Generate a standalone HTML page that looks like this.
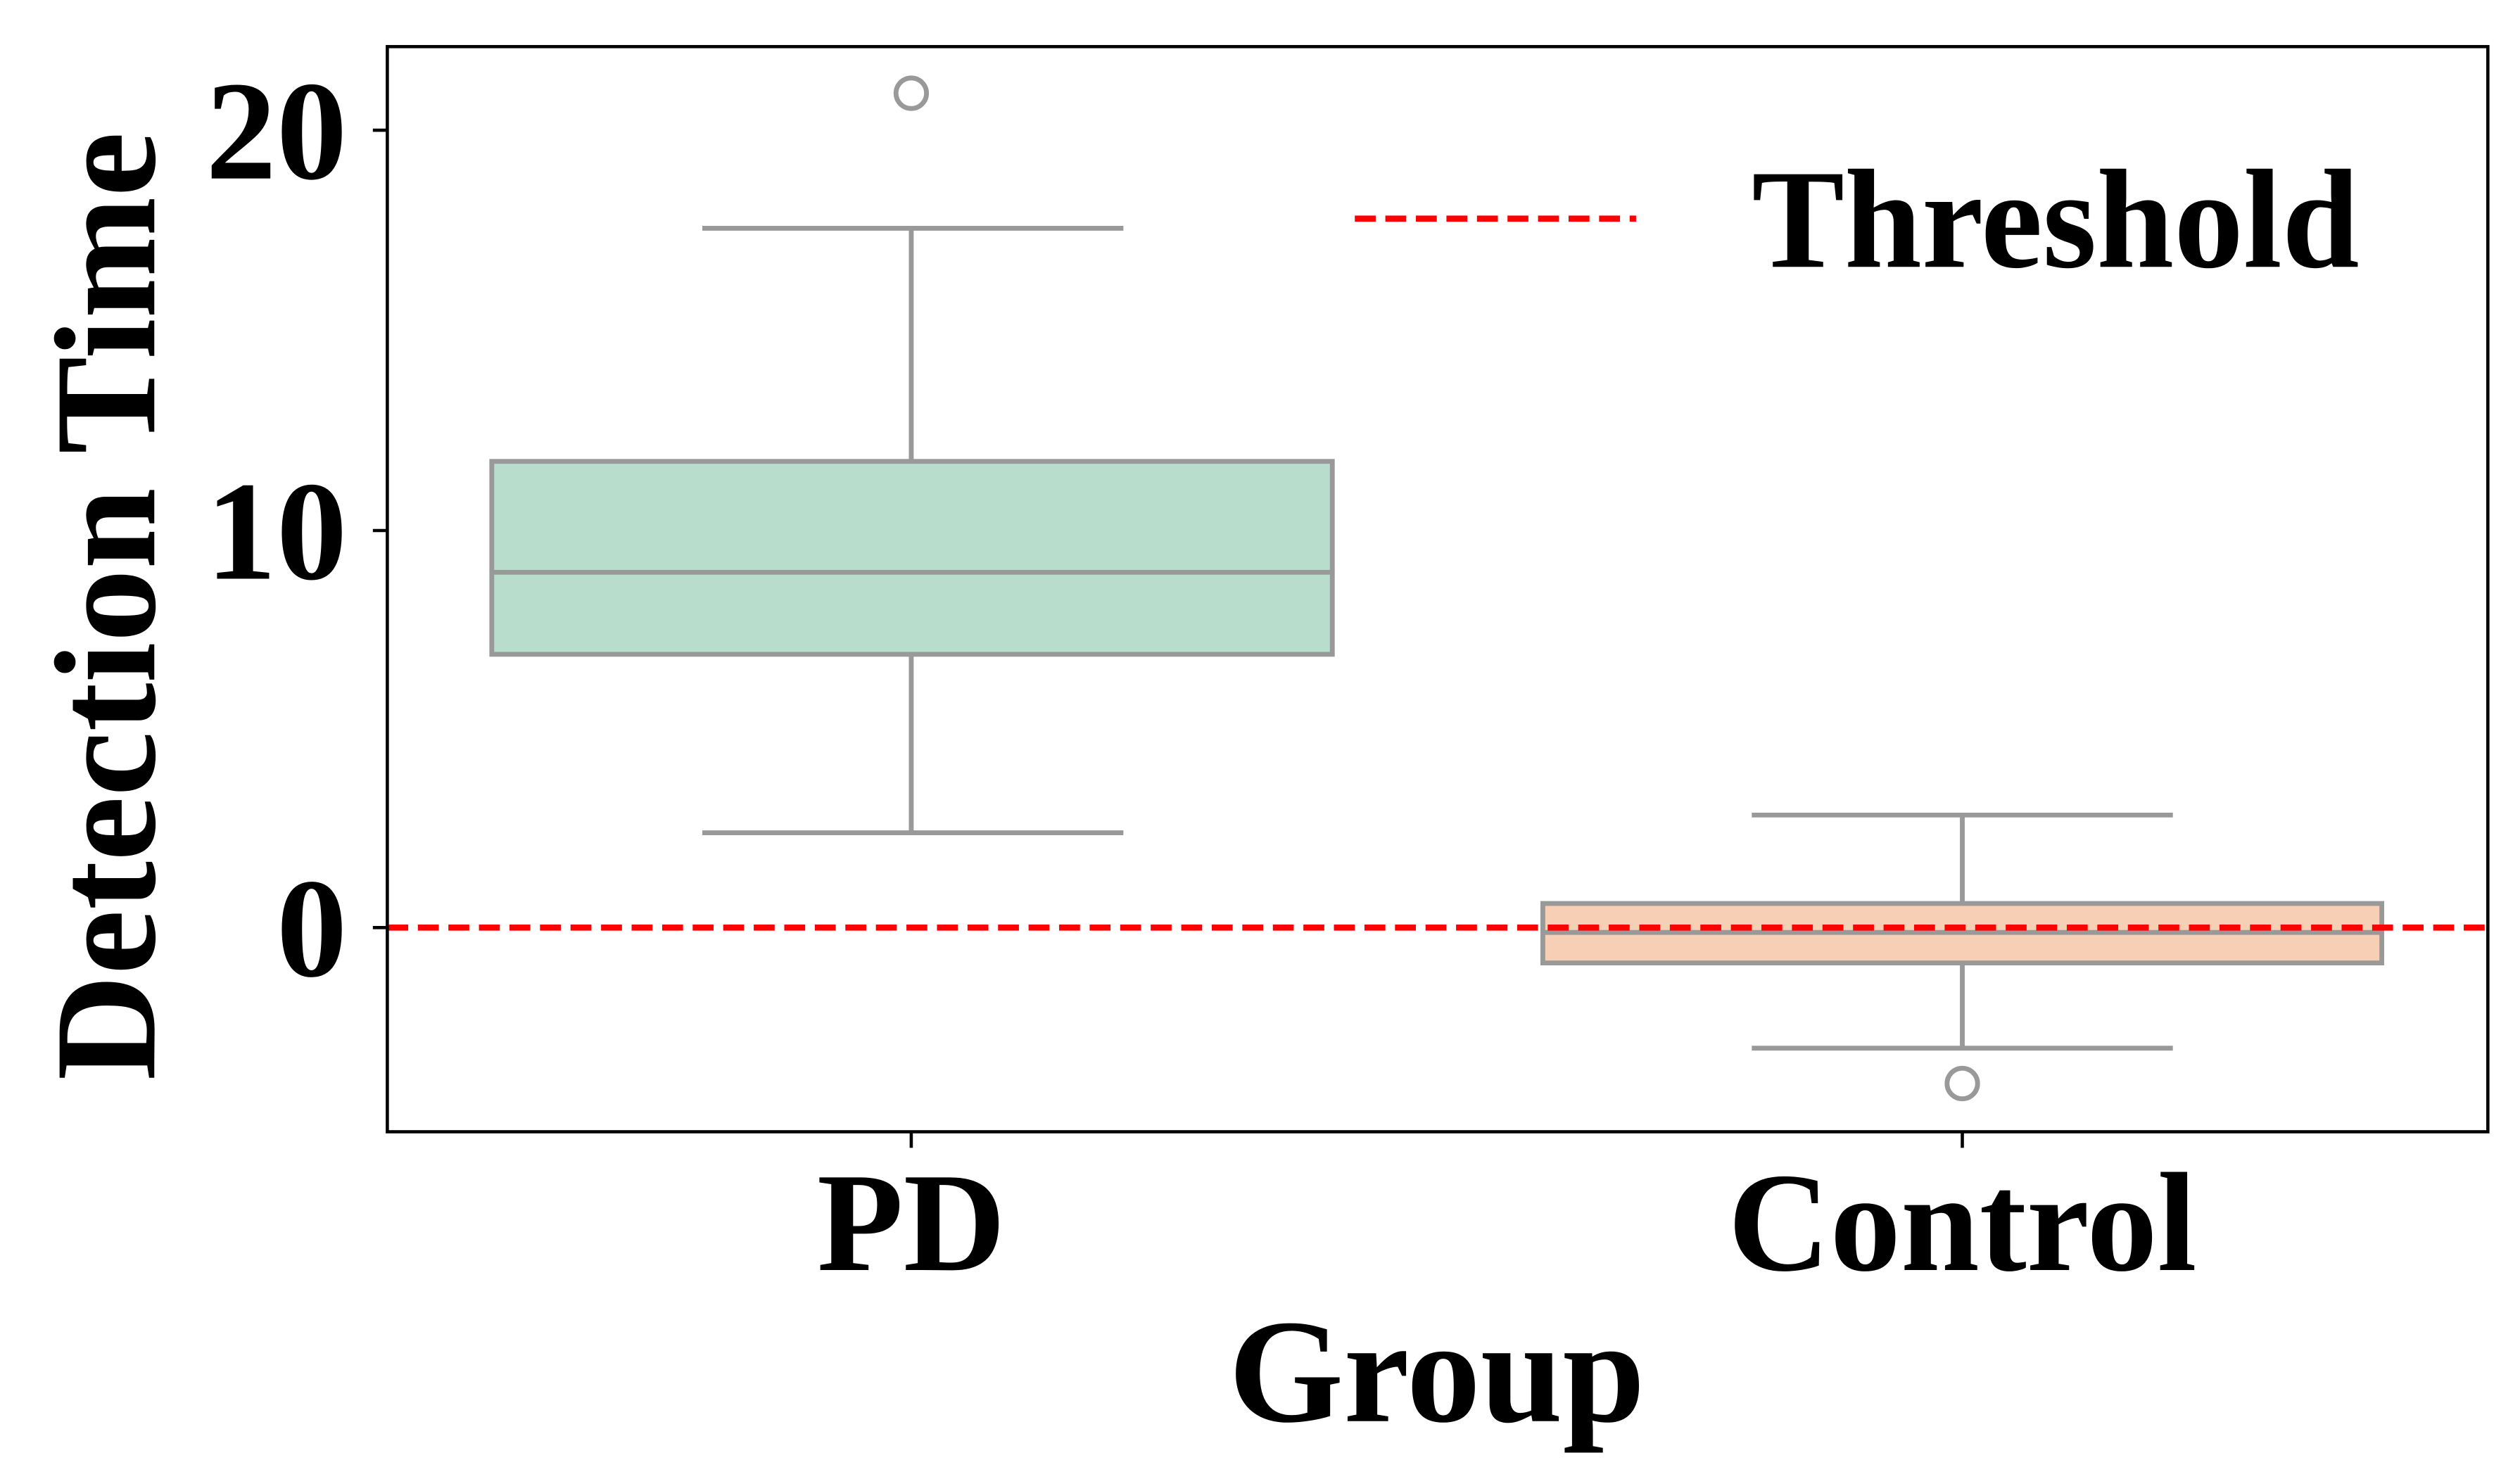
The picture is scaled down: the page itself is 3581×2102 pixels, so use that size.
<!DOCTYPE html>
<html><head><style>html,body{margin:0;padding:0;background:#fff}svg{display:block}</style></head>
<body>
<svg width="3581" height="2102" viewBox="0 0 1568 920" preserveAspectRatio="none" xmlns="http://www.w3.org/2000/svg" font-family="Liberation Serif, serif" font-weight="bold">
<rect width="1568" height="920" fill="#fff"/>
<g stroke="#999" stroke-width="3" fill="none">
<line x1="567" y1="142" x2="567" y2="287"/>
<line x1="567" y1="407" x2="567" y2="518"/>
<line x1="437" y1="142" x2="699" y2="142"/>
<line x1="437" y1="518" x2="699" y2="518"/>
<rect x="306" y="287" width="523" height="120" fill="#b9ddcd"/>
<line x1="306" y1="356" x2="829" y2="356"/>
<circle cx="567" cy="58" r="9.5"/>
<line x1="1221" y1="507" x2="1221" y2="562"/>
<line x1="1221" y1="599" x2="1221" y2="652"/>
<line x1="1090" y1="507" x2="1352" y2="507"/>
<line x1="1090" y1="652" x2="1352" y2="652"/>
<rect x="960" y="562" width="522" height="37" fill="#f6cfb5"/>
<line x1="960" y1="580" x2="1482" y2="580"/>
<circle cx="1221" cy="674" r="9.5"/>
</g>
<line x1="241" y1="577" x2="1548" y2="577" stroke="#f00" stroke-width="3.8" stroke-dasharray="13,6"/>
<line x1="843" y1="136" x2="1018" y2="136" stroke="#f00" stroke-width="3.8" stroke-dasharray="13,6"/>
<rect x="241" y="29" width="1307" height="675" fill="none" stroke="#000" stroke-width="2"/>
<g stroke="#000" stroke-width="2">
<line x1="232" y1="81" x2="241" y2="81"/>
<line x1="232" y1="330" x2="241" y2="330"/>
<line x1="232" y1="577" x2="241" y2="577"/>
<line x1="567" y1="704" x2="567" y2="714"/>
<line x1="1221" y1="704" x2="1221" y2="714"/>
</g>
<g font-size="88" text-anchor="end" fill="#000">
<text x="216" y="111">20</text>
<text x="216" y="360">10</text>
<text x="216" y="607">0</text>
</g>
<g font-size="88" text-anchor="middle" fill="#000">
<text x="567" y="790">PD</text>
<text x="1221" y="790">Control</text>
<text x="894" y="884" font-size="92">Group</text>
</g>
<text x="1090" y="166" font-size="88" textLength="378" lengthAdjust="spacingAndGlyphs" fill="#000">Threshold</text>
<text transform="translate(96,377) rotate(-90)" font-size="90" text-anchor="middle" textLength="590" lengthAdjust="spacingAndGlyphs" fill="#000">Detection Time</text>
</svg>
</body></html>
